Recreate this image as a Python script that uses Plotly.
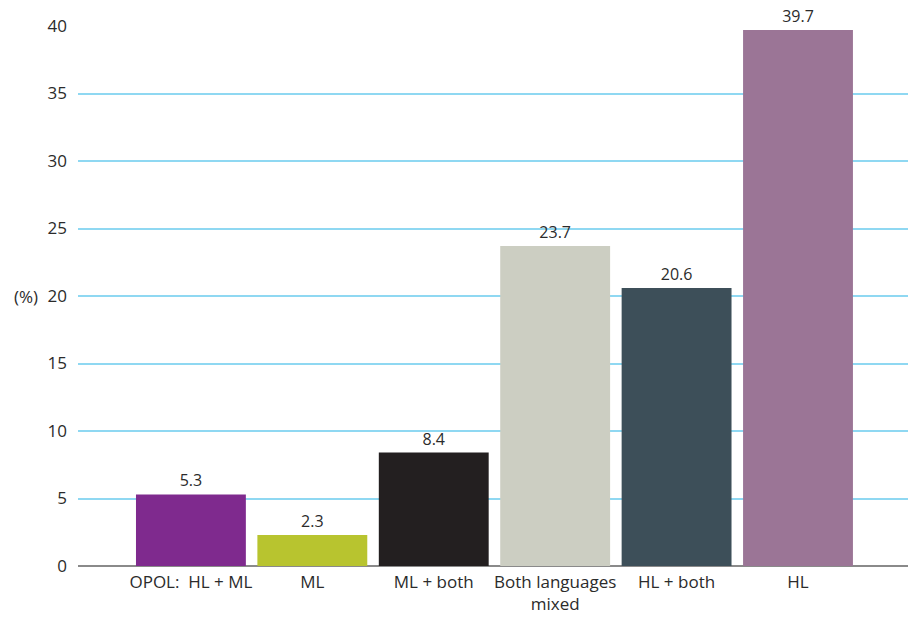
import plotly.graph_objects as go

categories = ["OPOL:  HL + ML", "ML", "ML + both", "Both languages<br>mixed", "HL + both", "HL"]
values = [5.3, 2.3, 8.4, 23.7, 20.6, 39.7]
bar_colors = ["#7f2a8e", "#b8c42f", "#231f20", "#cccec2", "#3d4f59", "#9b7596"]
y_ticks = [0, 5, 10, 15, 20, 25, 30, 35, 40]

font_family = "Open Sans, Lato, sans-serif"
text_color = "#2b2b2b"

fig = go.Figure(
    go.Bar(
        x=list(range(len(categories))),
        y=values,
        marker=dict(color=bar_colors, line=dict(width=0)),
        text=[f"{v:.1f}" for v in values],
        textposition="outside",
        textfont=dict(family=font_family, size=16, color=text_color),
        cliponaxis=False,
        width=0.905,
    )
)

fig.update_layout(
    width=908,
    height=618,
    margin=dict(l=78, r=0, t=26, b=52),
    plot_bgcolor="white",
    paper_bgcolor="white",
    showlegend=False,
    font=dict(family=font_family, color=text_color),
    xaxis=dict(
        tickmode="array",
        tickvals=list(range(len(categories))),
        ticktext=categories,
        range=[-0.93, 5.906],
        showgrid=False,
        showline=False,
        ticks="",
        ticklabelstandoff=4,
        tickfont=dict(size=17, color=text_color),
        zeroline=False,
    ),
    yaxis=dict(
        range=[0, 40],
        tickmode="array",
        tickvals=y_ticks,
        ticktext=[str(t) for t in y_ticks],
        showgrid=True,
        gridcolor="#8fd8f2",
        gridwidth=1.5,
        zeroline=True,
        zerolinecolor="#8a8a8a",
        zerolinewidth=2,
        ticks="",
        ticklabelstandoff=10,
        tickfont=dict(size=17, color=text_color),
    ),
    annotations=[
        dict(
            text="(%)",
            xref="paper",
            yref="y",
            x=0,
            y=20,
            xanchor="right",
            xshift=-38,
            showarrow=False,
            font=dict(size=17, color=text_color, family=font_family),
        )
    ],
)

fig.write_html("out.html")
